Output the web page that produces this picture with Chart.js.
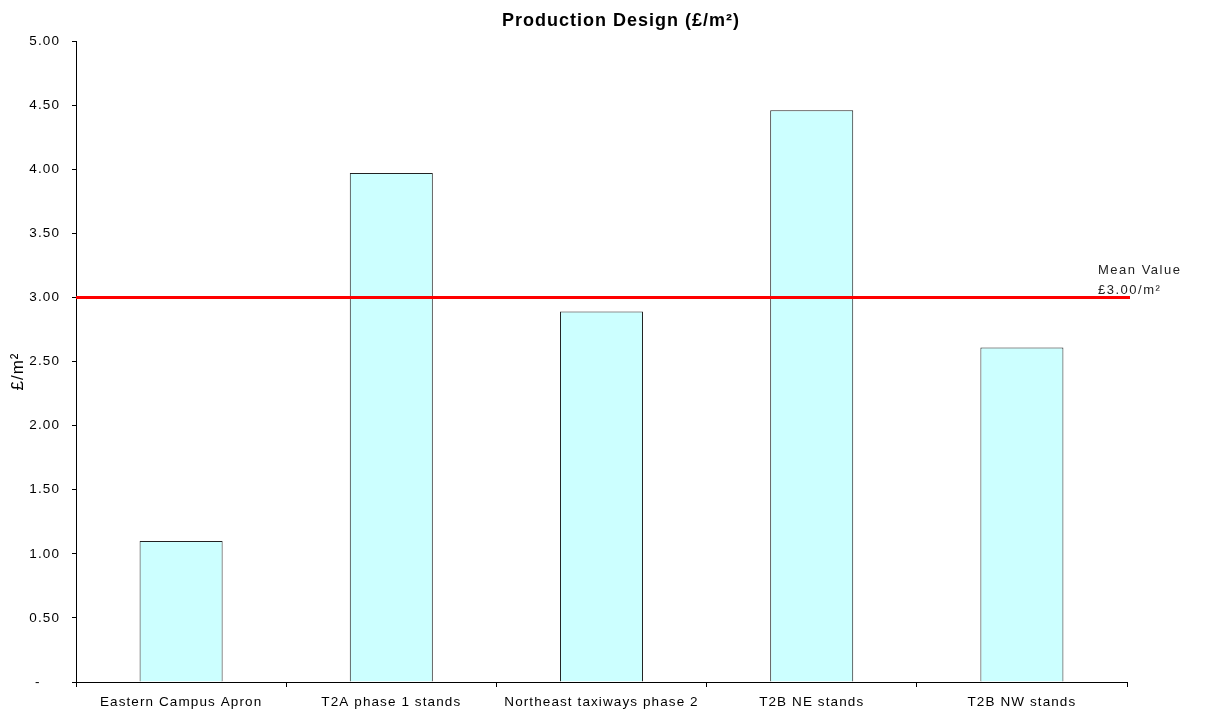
<!DOCTYPE html>
<html>
<head>
<meta charset="utf-8">
<script src="https://cdn.jsdelivr.net/npm/chart.js@4.4.1/dist/chart.umd.min.js"></script>
<style>
  html, body { margin: 0; padding: 0; background: #fff; }
  #wrap { width: 1207px; height: 715px; }
</style>
</head>
<body>
<div id="wrap"><canvas id="chart" width="1207" height="715"></canvas></div>
<script>
const categories = [
  "Eastern Campus Apron",
  "T2A phase 1 stands",
  "Northeast taxiways phase 2",
  "T2B NE stands",
  "T2B NW stands",
];
const costPerM2 = [1.10, 3.97, 2.89, 4.46, 2.61];
const meanValue = 3.00;
const meanLabel = ["Mean Value", "£3.00/m²"];
const chartTitle = "Production Design (£/m²)";
const yTitle = "£/m²";

const FONT = "'Liberation Sans', Arial, sans-serif";

// wider, Excel-like text spacing for everything drawn on the canvas
const spacing = {
  id: "spacing",
  beforeDraw(chart) { chart.ctx.letterSpacing = "1.1px"; }
};

// title, y title, mean line + its label
const overlay = {
  id: "overlay",
  afterDatasetsDraw(chart) {
    const { ctx, chartArea, scales } = chart;
    const y = scales.y.getPixelForValue(meanValue);
    ctx.save();
    ctx.strokeStyle = "#ff0000";
    ctx.lineWidth = 3;
    ctx.beginPath();
    ctx.moveTo(chartArea.left, y);
    ctx.lineTo(chartArea.right + 3, y);
    ctx.stroke();

    ctx.fillStyle = "#222";
    ctx.font = `13px ${FONT}`;
    ctx.letterSpacing = "1.5px";
    ctx.textAlign = "left";
    ctx.textBaseline = "alphabetic";
    ctx.fillText(meanLabel[0], chartArea.right - 29, y - 23);
    ctx.fillText(meanLabel[1], chartArea.right - 29, y - 3);

    ctx.fillStyle = "#000";
    ctx.font = `bold 18px ${FONT}`;
    ctx.letterSpacing = "1px";
    ctx.textAlign = "center";
    ctx.fillText(chartTitle, 621, 26);

    ctx.font = `17px ${FONT}`;
    ctx.letterSpacing = "1px";
    ctx.textBaseline = "middle";
    ctx.translate(18, (chartArea.top + chartArea.bottom) / 2 + 10);
    ctx.rotate(-Math.PI / 2);
    ctx.fillText(yTitle, 0, 0);
    ctx.restore();
  }
};

new Chart(document.getElementById("chart").getContext("2d"), {
  type: "bar",
  data: {
    labels: categories,
    datasets: [{
      data: costPerM2,
      backgroundColor: "#ccffff",
      borderColor: "#222",
      borderWidth: 1,
      barPercentage: 0.79,
      categoryPercentage: 0.5,
    }]
  },
  options: {
    responsive: false,
    animation: false,
    layout: { padding: { left: 8, right: 80, top: 41, bottom: 0 } },
    plugins: {
      legend: { display: false },
      tooltip: { enabled: false },
      title: { display: false },
    },
    scales: {
      x: {
        grid: { offset: true, drawOnChartArea: false, drawTicks: true, tickLength: 5, color: "#000" },
        border: { color: "#000", width: 1 },
        ticks: { color: "#000", font: { family: FONT, size: 13.5 }, padding: 7, maxRotation: 0, autoSkip: false },
        afterFit(scale) { scale.height = 33; },
      },
      y: {
        min: 0,
        max: 5,
        grid: { drawOnChartArea: false, drawTicks: true, tickLength: 4, color: "#000" },
        border: { color: "#000", width: 1 },
        ticks: {
          stepSize: 0.5,
          color: "#000",
          font: { family: FONT, size: 13.5 },
          padding: 12,
          callback: (v) => v === 0 ? "-    " : v.toFixed(2),
        },
        afterFit(scale) { scale.width = 68; },
      }
    }
  },
  plugins: [spacing, overlay]
});
</script>
</body>
</html>
